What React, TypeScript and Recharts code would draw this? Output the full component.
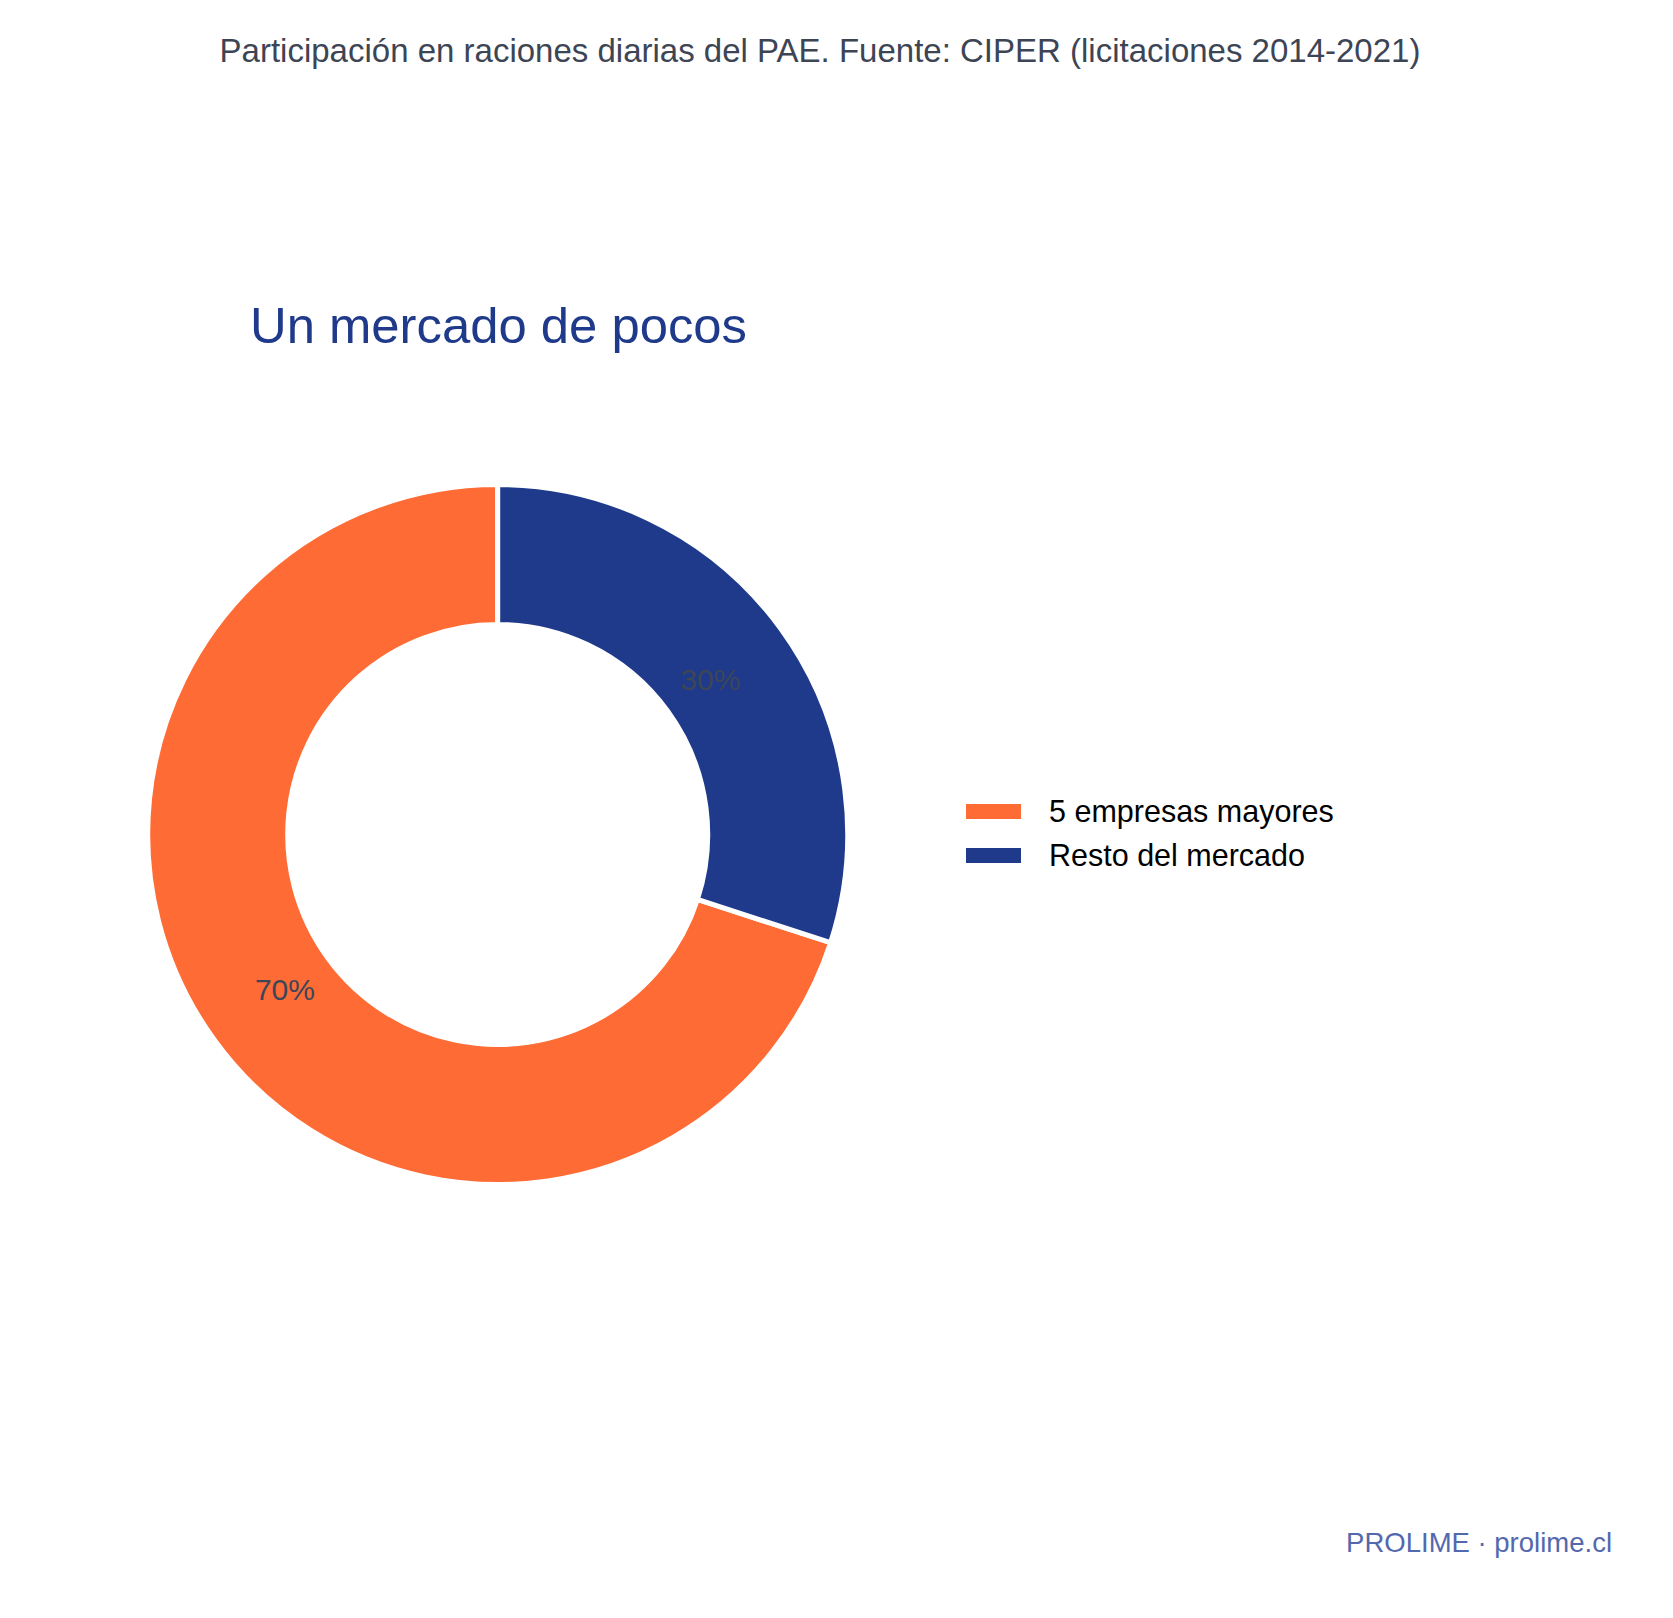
import { PieChart, Pie, Cell, Legend } from "recharts";

const categories = ["5 empresas mayores", "Resto del mercado"];
const shares = [70, 30];
const colors = ["#FF6B35", "#1F3A8A"];

const chartTitle = "Participación en raciones diarias del PAE. Fuente: CIPER (licitaciones 2014-2021)";
const headline = "Un mercado de pocos";
const footer = "PROLIME · prolime.cl";

const data = categories.map((name, i) => ({ name, value: shares[i] }));

const FONT = '"Liberation Sans", Arial, Helvetica, sans-serif';
const RADIAN = Math.PI / 180;

const renderLabel = ({ cx, cy, midAngle, percent }: { cx: number; cy: number; midAngle: number; percent: number }) => {
  const r = 263;
  const x = cx + r * Math.cos(-midAngle * RADIAN);
  const y = cy + r * Math.sin(-midAngle * RADIAN);
  return (
    <text
      x={x}
      y={y}
      textAnchor="middle"
      dominantBaseline="central"
      fill="#3d4657"
      fontSize={30}
      fontFamily={FONT}
    >
      {`${Math.round(percent * 100)}%`}
    </text>
  );
};

const LegendContent = ({ payload }: { payload?: Array<{ value: string; color: string }> }) => (
  <div style={{ fontFamily: FONT }}>
    {(payload ?? []).map((p) => (
      <div key={p.value} style={{ display: "flex", alignItems: "center", height: 44 }}>
        <span style={{ width: 55, height: 15, background: p.color, display: "inline-block" }} />
        <span style={{ marginLeft: 28, fontSize: 30.5, color: "#000" }}>{p.value}</span>
      </div>
    ))}
  </div>
);

export default function App() {
  return (
    <div style={{ position: "absolute", left: 0, top: 0, width: 1673, height: 1618, background: "#fff" }}>
      <PieChart width={1673} height={1618} margin={{ top: 0, right: 0, bottom: 0, left: 0 }}>
        <text x={820} y={62} textAnchor="middle" fill="#3d4555" fontSize={33} fontFamily={FONT}>
          {chartTitle}
        </text>
        <text x={250} y={343} textAnchor="start" fill="#1F3A8A" fontSize={50.8} fontFamily={FONT}>
          {headline}
        </text>
        <text x={1612} y={1552} textAnchor="end" fill="#5468ad" fontSize={27.5} fontFamily={FONT}>
          {footer}
        </text>
        <Pie
          data={data}
          dataKey="value"
          nameKey="name"
          cx={497.7}
          cy={834.5}
          innerRadius={210}
          outerRadius={350}
          startAngle={90}
          endAngle={450}
          stroke="#fff"
          strokeWidth={5}
          label={renderLabel}
          labelLine={false}
          isAnimationActive={false}
        >
          {data.map((d, i) => (
            <Cell key={d.name} fill={colors[i]} />
          ))}
        </Pie>
        <Legend
          layout="vertical"
          content={<LegendContent />}
          wrapperStyle={{ position: "absolute", left: 966, top: 789, width: 480, bottom: "auto" }}
        />
      </PieChart>
    </div>
  );
}
